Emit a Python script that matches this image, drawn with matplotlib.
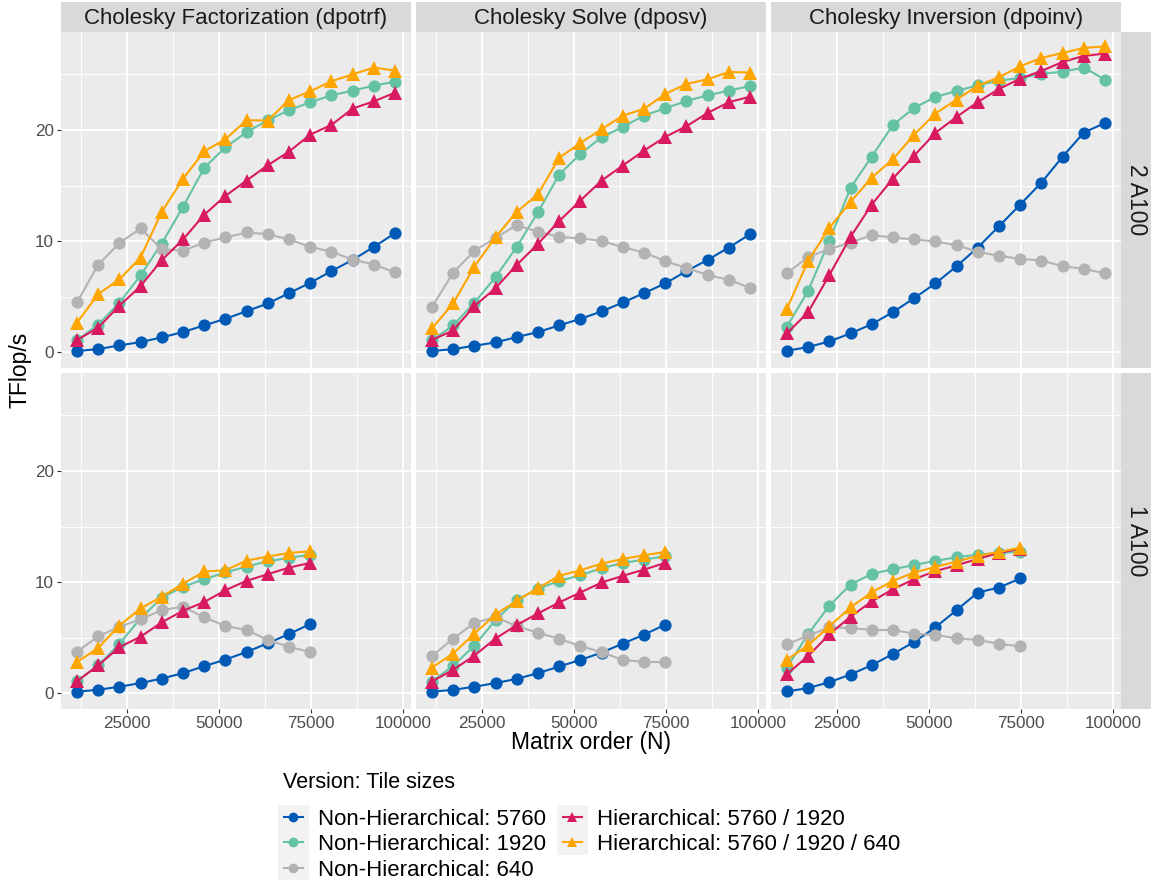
import matplotlib
matplotlib.use("Agg")
import matplotlib.pyplot as plt
from matplotlib.lines import Line2D
from matplotlib.patches import Rectangle

plt.rcParams['font.family'] = ['Liberation Sans', 'DejaVu Sans']

W, H = 1151, 884

# matrix orders (N)
n_2gpu = [11520, 17280, 23040, 28800, 34560, 40320, 46080, 51840,
          57600, 63360, 69120, 74880, 80640, 86400, 92160, 97920]
n_1gpu = n_2gpu[:12]

versions = ["Non-Hierarchical: 5760", "Non-Hierarchical: 1920", "Non-Hierarchical: 640",
            "Hierarchical: 5760 / 1920", "Hierarchical: 5760 / 1920 / 640"]
colors = ["#005AB5", "#66C2A5", "#B3B3B3", "#D81B60", "#FFA500"]
markers = ["o", "o", "o", "^", "^"]

operations = ["Cholesky Factorization (dpotrf)", "Cholesky Solve (dposv)", "Cholesky Inversion (dpoinv)"]
gpus = ["2 A100", "1 A100"]

# TFlop/s, 2 A100
potrf_2 = {
    versions[0]: [0.12, 0.30, 0.63, 0.93, 1.35, 1.83, 2.43, 3.02, 3.71, 4.40, 5.33, 6.26, 7.31, 8.32, 9.49, 10.72],
    versions[1]: [1.08, 2.49, 4.46, 6.92, 9.79, 13.08, 16.59, 18.44, 19.79, 20.87, 21.77, 22.49, 23.11, 23.53, 23.98, 24.34],
    versions[2]: [4.49, 7.87, 9.82, 11.14, 9.28, 9.13, 9.88, 10.33, 10.78, 10.63, 10.15, 9.49, 9.04, 8.35, 7.90, 7.19],
    versions[3]: [1.11, 2.22, 4.19, 5.96, 8.29, 10.15, 12.37, 14.07, 15.45, 16.83, 18.05, 19.58, 20.45, 21.92, 22.57, 23.35],
    versions[4]: [2.66, 5.24, 6.56, 8.53, 12.63, 15.60, 18.08, 19.16, 20.87, 20.84, 22.69, 23.47, 24.37, 25.00, 25.60, 25.33],
}
posv_2 = {
    versions[0]: [0.12, 0.30, 0.60, 0.90, 1.38, 1.83, 2.43, 3.02, 3.68, 4.49, 5.33, 6.20, 7.31, 8.32, 9.43, 10.63],
    versions[1]: [1.08, 2.43, 4.46, 6.77, 9.49, 12.60, 15.99, 17.84, 19.34, 20.27, 21.29, 21.95, 22.60, 23.11, 23.53, 23.95],
    versions[2]: [4.07, 7.16, 9.13, 10.30, 11.44, 10.84, 10.39, 10.24, 10.03, 9.46, 8.98, 8.20, 7.60, 6.95, 6.53, 5.81],
    versions[3]: [1.11, 1.98, 4.16, 5.78, 7.87, 9.76, 11.80, 13.65, 15.45, 16.80, 18.14, 19.37, 20.33, 21.53, 22.49, 22.99],
    versions[4]: [2.16, 4.40, 7.72, 10.36, 12.63, 14.22, 17.49, 18.83, 20.06, 21.29, 21.89, 23.23, 24.13, 24.55, 25.21, 25.15],
}
poinv_2 = {
    versions[0]: [0.15, 0.48, 0.99, 1.71, 2.54, 3.62, 4.88, 6.20, 7.75, 9.43, 11.35, 13.29, 15.27, 17.60, 19.76, 20.63],
    versions[1]: [2.31, 5.54, 10.03, 14.79, 17.60, 20.45, 21.98, 22.96, 23.50, 24.01, 24.43, 24.67, 25.03, 25.24, 25.60, 24.52],
    versions[2]: [7.10, 8.59, 9.28, 9.88, 10.54, 10.33, 10.15, 9.97, 9.64, 9.04, 8.68, 8.41, 8.26, 7.75, 7.51, 7.10],
    versions[3]: [1.71, 3.62, 6.95, 10.39, 13.29, 15.63, 17.69, 19.73, 21.17, 22.51, 23.68, 24.61, 25.30, 26.11, 26.65, 26.86],
    versions[4]: [3.92, 8.23, 11.20, 13.53, 15.72, 17.37, 19.58, 21.47, 22.72, 23.98, 24.73, 25.72, 26.47, 26.92, 27.37, 27.51],
}

# TFlop/s, 1 A100
potrf_1 = {
    versions[0]: [0.15, 0.33, 0.60, 0.93, 1.34, 1.82, 2.45, 3.04, 3.73, 4.51, 5.34, 6.24],
    versions[1]: [1.10, 2.51, 4.45, 6.75, 8.60, 9.58, 10.27, 10.87, 11.40, 11.88, 12.18, 12.48],
    versions[2]: [3.73, 5.13, 5.99, 6.66, 7.49, 7.79, 6.84, 6.06, 5.70, 4.81, 4.18, 3.73],
    versions[3]: [1.10, 2.51, 4.15, 5.10, 6.39, 7.43, 8.21, 9.28, 10.12, 10.72, 11.31, 11.73],
    versions[4]: [2.81, 4.09, 6.09, 7.64, 8.69, 9.85, 10.96, 11.07, 11.94, 12.30, 12.63, 12.78],
}
posv_1 = {
    versions[0]: [0.15, 0.33, 0.60, 0.93, 1.31, 1.82, 2.42, 3.01, 3.67, 4.48, 5.28, 6.18],
    versions[1]: [1.07, 2.48, 4.30, 6.60, 8.39, 9.43, 10.09, 10.63, 11.25, 11.73, 12.03, 12.33],
    versions[2]: [3.34, 4.93, 6.33, 6.87, 6.03, 5.46, 4.90, 4.27, 3.70, 3.01, 2.84, 2.81],
    versions[3]: [1.07, 2.12, 3.40, 4.93, 6.15, 7.19, 8.18, 9.07, 9.97, 10.57, 11.13, 11.73],
    versions[4]: [2.33, 3.58, 5.37, 7.10, 8.33, 9.46, 10.57, 11.07, 11.67, 12.09, 12.42, 12.72],
}
poinv_1 = {
    versions[0]: [0.18, 0.48, 1.01, 1.70, 2.54, 3.55, 4.63, 5.94, 7.49, 9.07, 9.52, 10.33],
    versions[1]: [2.33, 5.34, 7.88, 9.79, 10.75, 11.16, 11.55, 11.91, 12.24, 12.48, 12.63, 12.72],
    versions[2]: [4.42, 5.19, 5.94, 5.88, 5.70, 5.70, 5.37, 5.25, 4.95, 4.81, 4.45, 4.24],
    versions[3]: [1.73, 3.37, 5.31, 6.90, 8.27, 9.37, 10.27, 10.99, 11.52, 12.09, 12.63, 13.01],
    versions[4]: [3.04, 4.33, 6.03, 7.73, 9.10, 10.12, 10.87, 11.37, 11.85, 12.36, 12.72, 13.10],
}

panels = [[potrf_2, posv_2, poinv_2], [potrf_1, posv_1, poinv_1]]
row_n = [n_2gpu, n_1gpu]

fig = plt.figure(figsize=(W / 100, H / 100), dpi=100)


def px_axes(x0, y0, x1, y1):
    return fig.add_axes([x0 / W, 1 - y1 / H, (x1 - x0) / W, (y1 - y0) / H])


col_x = [(61, 411), (416, 766), (771, 1121)]
row_y = [(32, 368), (373, 709)]

for r in range(2):
    for c in range(3):
        ax = px_axes(col_x[c][0], row_y[r][0], col_x[c][1], row_y[r][1])
        ax.set_facecolor("#EBEBEB")
        for s in ax.spines.values():
            s.set_visible(False)
        ax.set_xlim(7200, 102240)
        ax.set_ylim(-1.4, 28.8)
        ax.set_xticks([25000, 50000, 75000, 100000])
        ax.set_xticks([12500, 37500, 62500, 87500], minor=True)
        ax.set_yticks([0, 10, 20])
        ax.set_yticks([5, 15, 25], minor=True)
        ax.grid(which="major", color="white", linewidth=1.3)
        ax.grid(which="minor", color="white", linewidth=0.65)
        ax.set_axisbelow(True)
        ax.tick_params(which="minor", length=0)
        ax.tick_params(which="major", length=3, width=0.8, color="#333333",
                       labelsize=12.3, labelcolor="#4D4D4D", pad=2)
        if r == 0:
            ax.tick_params(axis="x", length=0, labelbottom=False)
        if c > 0:
            ax.tick_params(axis="y", length=0, labelleft=False)

        data = panels[r][c]
        for v, col, m in zip(versions, colors, markers):
            ax.plot(row_n[r], data[v], color=col, marker=m, linewidth=1.5,
                    markersize=8.8 if m == "o" else 9.5, markeredgewidth=0)

        # top strips
        if r == 0:
            sx = px_axes(col_x[c][0], 2, col_x[c][1], 32)
            sx.set_facecolor("#D9D9D9")
            sx.set_xticks([]); sx.set_yticks([])
            for s in sx.spines.values():
                s.set_visible(False)
            sx.text(0.5, 0.45, operations[c], ha="center", va="center",
                    fontsize=16, color="#1A1A1A", transform=sx.transAxes)

    # right strips
    rx = px_axes(1121, row_y[r][0], 1151, row_y[r][1])
    rx.set_facecolor("#D9D9D9")
    rx.set_xticks([]); rx.set_yticks([])
    for s in rx.spines.values():
        s.set_visible(False)
    rx.text(0.5, 0.5, gpus[r], ha="center", va="center", rotation=-90,
            fontsize=16.5, color="#1A1A1A", transform=rx.transAxes)

fig.text(20 / W, 1 - 370 / H, "TFlop/s", rotation=90, ha="center", va="center", fontsize=16.5)
fig.text(591 / W, 1 - 743 / H, "Matrix order (N)", ha="center", va="center", fontsize=16.5)

# legend
fig.text(283 / W, 1 - 783 / H, "Version: Tile sizes", ha="left", va="center", fontsize=15.5)
handles = [Line2D([], [], color=col, marker=m, linewidth=1.5, markersize=7, markeredgewidth=0)
           for col, m in zip(colors, markers)]
leg = fig.legend(handles, versions, loc="upper left", bbox_to_anchor=(266 / W, 1 - 791 / H),
                 ncol=2, frameon=False, fontsize=16, handlelength=0.85, handletextpad=0.7,
                 columnspacing=0.75, labelspacing=0.2, borderpad=0.3)

# grey key backgrounds
fig.canvas.draw()
renderer = fig.canvas.get_renderer()
for h in leg.legend_handles:
    bb = h.get_window_extent(renderer)
    cy = (bb.y0 + bb.y1) / 2
    fig.patches.append(Rectangle(((bb.x0 - 1) / W, (cy - 12.5) / H), (bb.width + 2) / W, 25 / H,
                                 transform=fig.transFigure, facecolor="#F2F2F2",
                                 edgecolor="none", zorder=-1))

fig.savefig("out.png", dpi=100)
